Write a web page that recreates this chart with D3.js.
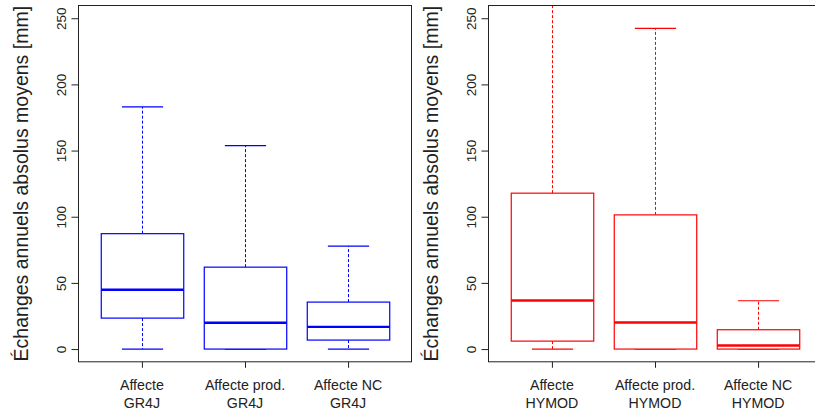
<!DOCTYPE html>
<html><head><meta charset="utf-8">
<script src="https://cdn.jsdelivr.net/npm/d3@7"></script>
<style>body{margin:0;background:#fff}svg{display:block;font-family:"Liberation Sans",Arial,sans-serif}</style>
</head><body><svg id="c" width="815" height="412"></svg>
<script>
const yTicks = [0, 50, 100, 150, 200, 250];
const yTitle = "Échanges annuels absolus moyens [mm]";

const gr4jLabels = [["Affecte", "GR4J"], ["Affecte prod.", "GR4J"], ["Affecte NC", "GR4J"]];
const gr4jLow    = [0, 0, 0];
const gr4jQ1     = [23.4, 0, 6.8];
const gr4jMedian = [44.8, 19.9, 16.8];
const gr4jQ3     = [87.2, 61.9, 35.5];
const gr4jHigh   = [183, 153.7, 77.8];

const hymodLabels = [["Affecte", "HYMOD"], ["Affecte prod.", "HYMOD"], ["Affecte NC", "HYMOD"]];
const hymodLow    = [0, 0, 0];
const hymodQ1     = [6.0, 0, 0];
const hymodMedian = [36.7, 20.1, 2.7];
const hymodQ3     = [117.8, 101.4, 14.6];
const hymodHigh   = [300, 242.4, 36.5];

const svg = d3.select("#c");
const plotTop = 5, plotBottom = 362.3;
const y = d3.scaleLinear().domain([-10, 260]).range([plotBottom, plotTop]);

function panel(id, left, right, color, labels, low, q1, med, q3, high) {
  const x = d3.scaleLinear().domain([0.38, 3.62]).range([left, right]);
  const g = svg.append("g");
  svg.append("clipPath").attr("id", id).append("rect")
    .attr("x", left).attr("y", plotTop).attr("width", right - left).attr("height", plotBottom - plotTop);
  const plot = g.append("g").attr("clip-path", `url(#${id})`);
  const data = labels.map((l, i) => ({i: i + 1, low: low[i], q1: q1[i], med: med[i], q3: q3[i], high: high[i]}));
  const bw = x(1.4) - x(1), cw = x(1.2) - x(1);
  data.forEach(d => {
    const cx = Math.round(x(d.i)) + 0.5;
    plot.append("line").attr("x1", cx).attr("x2", cx).attr("y1", y(d.q3)).attr("y2", y(d.high))
      .attr("stroke", color).attr("stroke-width", 1).attr("stroke-dasharray", "3,2");
    plot.append("line").attr("x1", cx).attr("x2", cx).attr("y1", y(d.q1)).attr("y2", y(d.low))
      .attr("stroke", color).attr("stroke-width", 1).attr("stroke-dasharray", "3,2");
    [d.high, d.low].forEach(v => {
      plot.append("line").attr("x1", cx - cw).attr("x2", cx + cw).attr("y1", y(v)).attr("y2", y(v))
        .attr("stroke", color).attr("stroke-width", 1.2);
    });
    plot.append("rect").attr("x", cx - bw).attr("width", 2 * bw)
      .attr("y", y(d.q3)).attr("height", y(d.q1) - y(d.q3))
      .attr("fill", "white").attr("stroke", color).attr("stroke-width", 1.2);
    plot.append("line").attr("x1", cx - bw).attr("x2", cx + bw).attr("y1", y(d.med)).attr("y2", y(d.med))
      .attr("stroke", color).attr("stroke-width", 2.4);
  });
  g.append("rect").attr("x", left + 0.5).attr("y", plotTop + 0.5).attr("width", right - left - 1).attr("height", plotBottom - plotTop - 1)
    .attr("fill", "none").attr("stroke", "#222").attr("stroke-width", 1);
  const ya = g.append("g").attr("transform", `translate(${left + 0.5},0)`)
    .call(d3.axisLeft(y).tickValues(yTicks).tickSize(7).tickFormat(d3.format("d")));
  ya.select(".domain").remove();
  ya.selectAll(".tick line").attr("stroke", "#222");
  ya.selectAll(".tick text").attr("x", null).attr("dy", null)
    .attr("transform", "translate(-13,0) rotate(-90)")
    .attr("text-anchor", "middle").attr("font-size", "13.5px").attr("fill", "#222")
    .attr("font-family", "Liberation Sans, Arial, sans-serif");
  const xa = g.append("g").attr("transform", `translate(0,${plotBottom - 0.5})`)
    .call(d3.axisBottom(x).tickValues([1, 2, 3]).tickSize(6).tickFormat(""));
  xa.select(".domain").remove();
  xa.selectAll(".tick line").attr("stroke", "#222");
  data.forEach((d, k) => {
    const t = g.append("text").attr("text-anchor", "middle").attr("font-size", "14.2px").attr("fill", "#222");
    labels[k].forEach((s, j) => {
      t.append("tspan").attr("x", x(d.i)).attr("y", 390 + 18 * j).text(s);
    });
  });
  g.append("text").attr("transform", `translate(${left - 50.5},${(plotTop + plotBottom) / 2}) rotate(-90)`)
    .attr("text-anchor", "middle").attr("font-size", "19.5px").attr("fill", "#222").text(yTitle);
}

panel("clipA", 78, 412, "#0000ff", gr4jLabels, gr4jLow, gr4jQ1, gr4jMedian, gr4jQ3, gr4jHigh);
panel("clipB", 488, 822, "#ff0000", hymodLabels, hymodLow, hymodQ1, hymodMedian, hymodQ3, hymodHigh);
</script></body></html>
